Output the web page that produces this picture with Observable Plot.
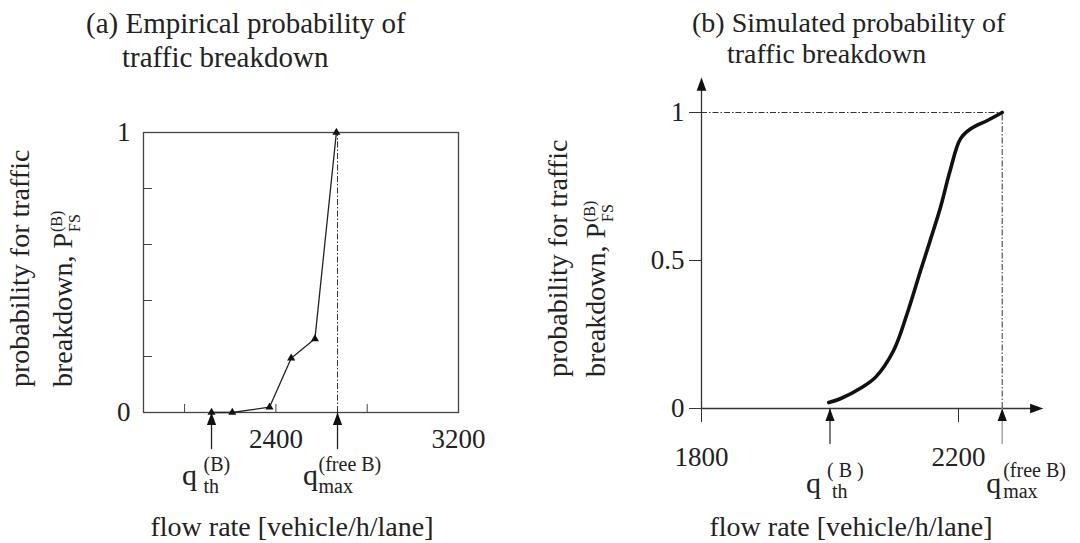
<!DOCTYPE html>
<html><head><meta charset="utf-8">
<script src="https://cdn.jsdelivr.net/npm/d3@7"></script>
<script src="https://cdn.jsdelivr.net/npm/@observablehq/plot@0.6"></script>
<style>
body{margin:0;background:#fff;}
#wrap{position:relative;width:1080px;height:543px;overflow:hidden;font-family:"Liberation Serif","Times New Roman",serif;color:#222;background:#fff;}
.panel{position:absolute;top:0;}
.t{position:absolute;white-space:nowrap;line-height:1;}
.rot{position:absolute;white-space:nowrap;line-height:1;transform-origin:0 0;transform:rotate(-90deg);}
.st{position:relative;display:inline-block;width:22px;height:10px;}
.st span{position:absolute;left:1px;font-size:16px;line-height:16px;}
</style></head><body><div id="wrap"></div>
<script>
// ---------- data ----------
// (a) empirical probability
const empFlow = [2118, 2209, 2372, 2467, 2571, 2665];
const empProb = [0, 0, 0.019, 0.194, 0.263, 1];
const empThreshold = 2118;
const empMax = 2670;
const empXTicks = [2000, 2400, 2800];
const empXLabels = [2400, 3200];
const empYTicks = [0.2, 0.4, 0.6, 0.8];
const empYLabels = [0, 1];
// (b) simulated probability
const simFlow = [1998, 2016, 2050, 2071, 2099, 2120, 2141, 2156, 2172, 2187, 2203, 2219, 2245, 2268];
const simProb = [0.02, 0.033, 0.072, 0.106, 0.196, 0.32, 0.466, 0.568, 0.68, 0.804, 0.911, 0.945, 0.973, 1.0];
const simThreshold = 2000;
const simMax = 2268;
const simXTicks = [1800, 2200];
const simYTicks = [0, 0.5, 1];

const emp = empFlow.map((f, i) => ({flow: f, p: empProb[i]}));
const sim = simFlow.map((f, i) => ({flow: f, p: simProb[i]}));

// ---------- helpers ----------
const lineShape = {draw(ctx, l) { ctx.moveTo(0, 0); ctx.lineTo(0, -l); }};
const headUp = {draw(ctx, size) { const r = Math.sqrt(size / Math.PI); ctx.moveTo(0, 0); ctx.lineTo(-r * 1.1, r * 3); ctx.lineTo(r * 1.1, r * 3); ctx.closePath(); }};
const headRight = {draw(ctx, size) { const r = Math.sqrt(size / Math.PI); ctx.moveTo(0, 0); ctx.lineTo(-r * 3, -r * 1.1); ctx.lineTo(-r * 3, r * 1.1); ctx.closePath(); }};
const dashDot = "6,2,1.5,2";
const ink = "#222";

function qLabel(xv, sup, sub, o) {
  return [
    Plot.text([xv], {x: d => d, y: () => 0, text: () => "q", dx: o.qdx, dy: o.qdy, fontSize: 30, textAnchor: "middle", lineAnchor: "bottom", fill: ink}),
    Plot.text([xv], {x: d => d, y: () => 0, text: () => sup, dx: o.sdx, dy: o.supdy, fontSize: o.fs, textAnchor: "start", lineAnchor: "bottom", fill: ink}),
    Plot.text([xv], {x: d => d, y: () => 0, text: () => sub, dx: o.bdx, dy: o.subdy, fontSize: o.fs, textAnchor: "start", lineAnchor: "bottom", fill: ink})
  ];
}
function upArrows(xs, len, lineColors) {
  return xs.flatMap((xv, i) => [
    Plot.vector([xv], {x: d => d, y: () => 0, length: len, rotate: 180, anchor: "start", shape: lineShape, stroke: lineColors[i], strokeWidth: 1.3}),
    Plot.dot([xv], {x: d => d, y: () => 0, symbol: headUp, r: 4.2, fill: "#111", stroke: "none"})
  ]);
}

const style = {fontFamily: "Liberation Serif, Times New Roman, serif", fontSize: "27px", background: "transparent", color: ink, overflow: "visible"};

// ---------- (a) ----------
const left = Plot.plot({
  width: 540, height: 543,
  marginLeft: 143, marginRight: 82, marginTop: 132, marginBottom: 131,
  style,
  x: {domain: [1820, 3200]},
  y: {domain: [0, 1]},
  marks: [
    Plot.frame({stroke: "#444", strokeWidth: 1.3}),
    Plot.axisY({ticks: empYTicks, tickSize: -9, tickFormat: () => "", label: null, stroke: "#444"}),
    Plot.axisY({ticks: empYLabels, tickSize: 0, tickPadding: 13, tickFormat: d => String(d), label: null}),
    Plot.axisX({ticks: empXTicks, tickSize: -8, tickFormat: () => "", label: null, stroke: "#444"}),
    Plot.axisX({ticks: empXLabels, tickSize: 0, tickPadding: 16, tickFormat: d => String(d), label: null}),
    Plot.ruleX([empMax], {y1: 0, y2: 1, stroke: "#333", strokeWidth: 1, strokeDasharray: dashDot}),
    Plot.line(emp, {x: "flow", y: "p", stroke: ink, strokeWidth: 1.3}),
    Plot.dot(emp, {x: "flow", y: "p", symbol: "triangle", r: 3, fill: "#111", stroke: "none"}),
    ...upArrows([empThreshold, empMax], 36, [ink, ink]),
    ...qLabel(empThreshold, "(B)", "th", {qdx: -22, qdy: 72, sdx: -8, supdy: 58, bdx: -8, subdy: 80, fs: 20}),
    ...qLabel(empMax, "(free B)", "max", {qdx: -27, qdy: 72, sdx: -19, supdy: 58, bdx: -19, subdy: 80, fs: 20})
  ]
});

// ---------- (b) ----------
const right = Plot.plot({
  width: 540, height: 543,
  marginLeft: 161, marginRight: 57.75, marginTop: 112, marginBottom: 135,
  style,
  x: {domain: [1800, 2300]},
  y: {domain: [0, 1]},
  marks: [
    Plot.ruleY([1], {x1: 1800, x2: simMax, stroke: "#333", strokeWidth: 1, strokeDasharray: dashDot}),
    Plot.ruleX([simMax], {y1: 0, y2: 1, stroke: "#333", strokeWidth: 1, strokeDasharray: dashDot}),
    Plot.ruleX([1800], {y1: 0, y2: 1.1, stroke: "#333", strokeWidth: 1.3}),
    Plot.ruleY([0], {x1: 1800, x2: 2325, stroke: "#333", strokeWidth: 1.3}),
    Plot.dot([{x: 1800, y: 1.118}], {x: "x", y: "y", symbol: headUp, r: 4.4, fill: "#111", stroke: "none"}),
    Plot.dot([{x: 2332, y: 0}], {x: "x", y: "y", symbol: headRight, r: 4.4, fill: "#111", stroke: "none"}),
    Plot.axisY({ticks: simYTicks, tickSize: 12, tickPadding: 5, tickFormat: d => String(d), label: null, stroke: "#333"}),
    Plot.axisX({ticks: simXTicks, tickSize: 14, tickPadding: 24, tickFormat: d => String(d), label: null, stroke: "#333"}),
    Plot.line(sim, {x: "flow", y: "p", curve: "catmull-rom", stroke: "#111", strokeWidth: 3.6}),
    ...upArrows([simThreshold, simMax], 35, ["#333", "#999"]),
    ...qLabel(simThreshold, "( B )", "th", {qdx: -16.5, qdy: 84, sdx: -3, supdy: 68, bdx: 2, subdy: 89, fs: 20}),
    ...qLabel(simMax, "(free B)", "max", {qdx: -8.5, qdy: 84, sdx: 1, supdy: 68, bdx: 1, subdy: 89, fs: 20})
  ]
});

const wrap = document.getElementById("wrap");
left.classList.add("panel"); left.style.left = "0px";
right.classList.add("panel"); right.style.left = "540px";
wrap.appendChild(left);
wrap.appendChild(right);

// ---------- text overlays ----------
function addText(html, cls, css) {
  const d = document.createElement("div");
  d.className = cls;
  d.innerHTML = html;
  Object.assign(d.style, css);
  wrap.appendChild(d);
}
const bl = fs => 0.8375 * fs; // baseline offset for line-height 1
// titles
addText("(a) Empirical probability of", "t", {left: "86px", top: (33 - bl(29)) + "px", fontSize: "29px"});
addText("traffic breakdown", "t", {left: "122px", top: (67 - bl(29)) + "px", fontSize: "29px"});
addText("(b) Simulated probability of", "t", {left: "692px", top: (32 - bl(28)) + "px", fontSize: "28px"});
addText("traffic breakdown", "t", {left: "727px", top: (63 - bl(28)) + "px", fontSize: "28px"});
// x titles
addText("flow rate [vehicle/h/lane]", "t", {left: (292 - 200) + "px", width: "400px", textAlign: "center", top: (536 - bl(28)) + "px", fontSize: "28px"});
addText("flow rate [vehicle/h/lane]", "t", {left: (851 - 200) + "px", width: "400px", textAlign: "center", top: (536 - bl(28)) + "px", fontSize: "28px"});
// y titles (rotated)
const pfs = 'breakdown, P<span class="st"><span style="bottom:7px">(B)</span><span style="bottom:-11px">FS</span></span>';
addText("probability for traffic", "rot", {left: (29 - bl(28)) + "px", top: "387px", fontSize: "28px"});
addText(pfs, "rot", {left: (72 - bl(28)) + "px", top: "387px", fontSize: "28px"});
addText("probability for traffic", "rot", {left: (567 - bl(28)) + "px", top: "377px", fontSize: "28px"});
addText(pfs, "rot", {left: (605 - bl(28)) + "px", top: "377px", fontSize: "28px"});
</script></body></html>
